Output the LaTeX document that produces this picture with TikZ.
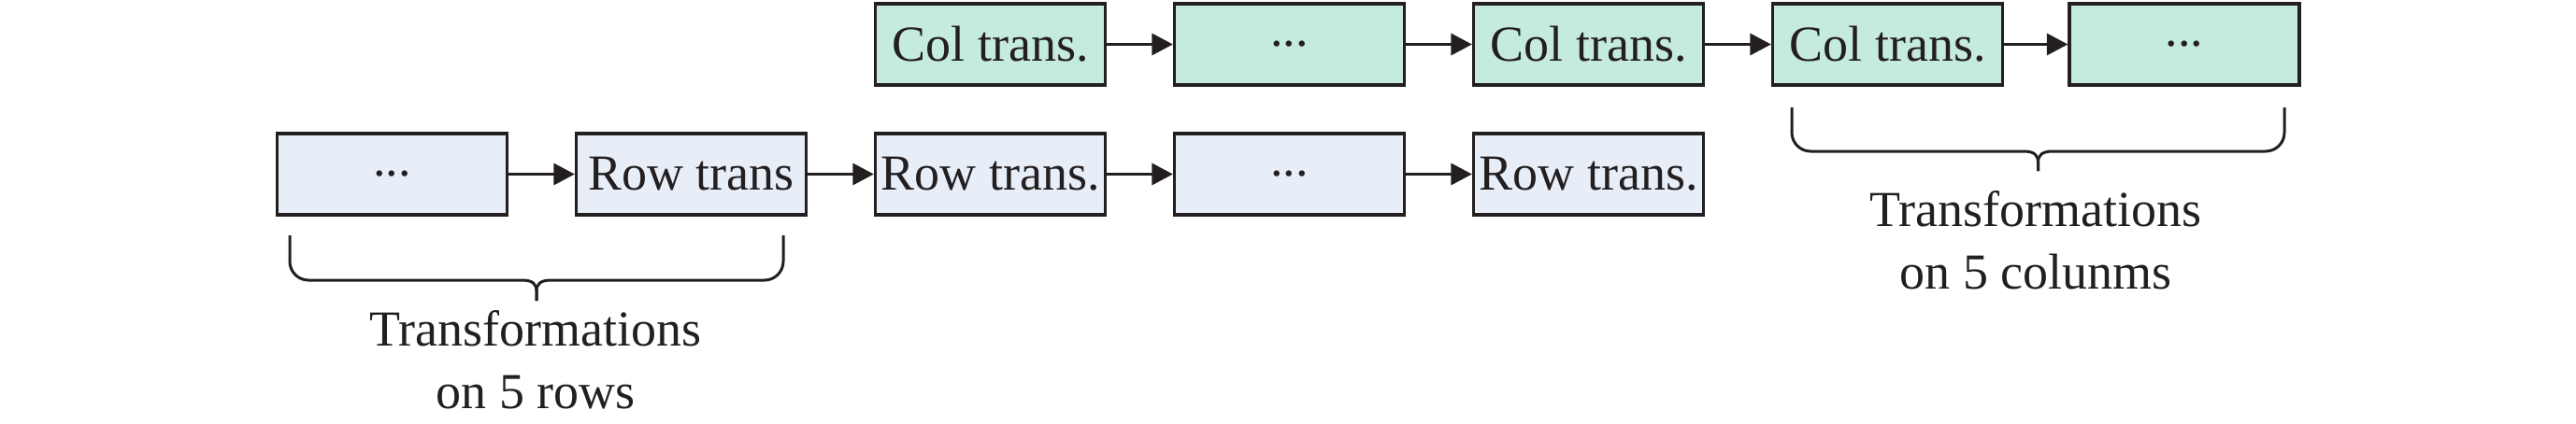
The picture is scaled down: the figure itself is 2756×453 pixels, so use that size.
\documentclass[tikz,border=0pt]{standalone}
\usepackage{fontspec}
\setmainfont{Liberation Serif}
\usetikzlibrary{arrows.meta}
\definecolor{rowfill}{HTML}{E8EEF8}
\definecolor{colfill}{HTML}{C5EADE}
\definecolor{ink}{HTML}{231F20}
\newcommand\dts{\raisebox{-0.04em}{...}}
\begin{document}
\begin{tikzpicture}[x=0.2pt,y=-0.2pt,
  box/.style={draw=ink, line width=0.66pt, minimum width=49.2pt, minimum height=17.4pt,
    inner sep=0pt, font=\fontsize{10.8}{13.4}\selectfont, text=ink},
  rowbox/.style={box, fill=rowfill},
  colbox/.style={box, fill=colfill},
  arr/.style={draw=ink, line width=0.66pt, -{Triangle[length=4.5pt,width=4.6pt]}},
  brace/.style={draw=ink, line width=0.6pt},
  lbl/.style={align=center, inner sep=0pt, font=\fontsize{10.8}{13.4}\selectfont, text=ink}]
\useasboundingbox (0,0) rectangle (2756,453);
% bottom row
\node[rowbox] (b1) at (419.5,186.5) {\dts};
\node[rowbox] (b2) at (739.5,186.5) {Row trans};
\node[rowbox] (b3) at (1059.5,186.5) {Row trans.};
\node[rowbox] (b4) at (1379.5,186.5) {\dts};
\node[rowbox] (b5) at (1699.5,186.5) {Row trans.};
% top row
\node[colbox] (t1) at (1059.5,47.5) {Col trans.};
\node[colbox] (t2) at (1379.5,47.5) {\dts};
\node[colbox] (t3) at (1699.5,47.5) {Col trans.};
\node[colbox] (t4) at (2019.5,47.5) {Col trans.};
\node[colbox] (t5) at (2337,47.5) {\dts};
% arrows
\draw[arr] (b1) -- (b2);
\draw[arr] (b2) -- (b3);
\draw[arr] (b3) -- (b4);
\draw[arr] (b4) -- (b5);
\draw[arr] (t1) -- (t2);
\draw[arr] (t2) -- (t3);
\draw[arr] (t3) -- (t4);
\draw[arr] (t4) -- (t5);
% brace under rows
\draw[brace] (310,252) -- (310,280) .. controls (310,291) and (319,300) .. (330,300)
  -- (558,300) .. controls (570,300) and (574,304) .. (574,312) -- (574,322);
\draw[brace] (838,252) -- (838,280) .. controls (838,291) and (829,300) .. (818,300)
  -- (590,300) .. controls (578,300) and (574,304) .. (574,312) -- (574,322);
% brace under columns
\draw[brace] (1917,115) -- (1917,142) .. controls (1917,153) and (1926,162) .. (1937,162)
  -- (2164.5,162) .. controls (2176.5,162) and (2180.5,166) .. (2180.5,174) -- (2180.5,183);
\draw[brace] (2444,115) -- (2444,142) .. controls (2444,153) and (2435,162) .. (2424,162)
  -- (2196.5,162) .. controls (2184.5,162) and (2180.5,166) .. (2180.5,174) -- (2180.5,183);
% labels
\node[lbl, anchor=north] (lrows) at (573,331) {Transformations\\on 5 rows};
\node[lbl, anchor=north] (lcols) at (2178,203) {Transformations\\on 5 colunms};
\end{tikzpicture}
\end{document}
